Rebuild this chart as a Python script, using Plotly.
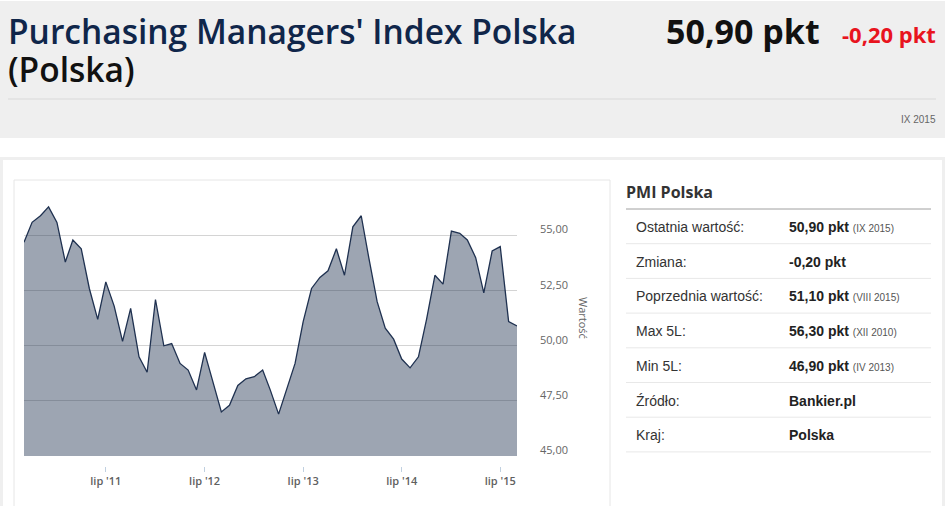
import pandas as pd
import plotly.graph_objects as go

# Page size in pixels
W, H = 945, 506

# PMI Polska, monthly values from IX 2010 to IX 2015
months = pd.date_range("2010-09-01", "2015-09-01", freq="MS")
pmi = [54.7, 55.6, 55.9, 56.3,
       55.6, 53.8, 54.8, 54.4, 52.6, 51.2, 52.9, 51.8, 50.2, 51.7, 49.5, 48.8,
       52.1, 50.0, 50.1, 49.2, 48.9, 48.0, 49.7, 48.3, 47.0, 47.3, 48.2, 48.5,
       48.6, 48.9, 48.0, 46.9, 48.0, 49.2, 51.1, 52.6, 53.1, 53.4, 54.4, 53.2,
       55.4, 55.9, 54.0, 52.0, 50.8, 50.3, 49.4, 49.0, 49.5, 51.2, 53.2, 52.8,
       55.2, 55.1, 54.8, 54.0, 52.4, 54.3, 54.5, 51.1, 50.9]

# Axis ticks
x_tick_dates = ["2011-07-01", "2012-07-01", "2013-07-01", "2014-07-01", "2015-07-01"]
x_tick_labels = ["lip '11", "lip '12", "lip '13", "lip '14", "lip '15"]
y_tick_values = [45, 47.5, 50, 52.5, 55]
y_tick_labels = ["45,00", "47,50", "50,00", "52,50", "55,00"]

# Header texts
title_line1 = "Purchasing Managers' Index Polska"
title_line2 = "(Polska)"
last_value = "50,90 pkt"
last_change = "-0,20 pkt"
last_period = "IX 2015"

# Side table
table_title = "PMI Polska"
row_labels = ["Ostatnia wartość:", "Zmiana:", "Poprzednia wartość:", "Max 5L:",
              "Min 5L:", "Źródło:", "Kraj:"]
row_values = ["50,90 pkt", "-0,20 pkt", "51,10 pkt", "56,30 pkt",
              "46,90 pkt", "Bankier.pl", "Polska"]
row_notes = ["(IX 2015)", "", "(VIII 2015)", "(XII 2010)", "(IV 2013)", "", ""]


# pixel -> paper helpers
def px(x):
    return x / W


def py(y):
    return 1 - y / H


HEAD_FONT = "Open Sans"
BODY_FONT = "Liberation Sans"

fig = go.Figure()

# Area chart
fig.add_trace(go.Scatter(
    x=months, y=pmi, mode="lines",
    line=dict(color="#1f3150", width=1.3),
    fill="tozeroy", fillcolor="rgba(31,49,80,0.44)",
    hoverinfo="x+y", showlegend=False
))

shapes = []
# header background and separator
shapes.append(dict(type="rect", xref="paper", yref="paper", x0=0, x1=1, y0=py(138), y1=py(1),
                   fillcolor="#efefef", line=dict(width=0), layer="below"))
shapes.append(dict(type="line", xref="paper", yref="paper", x0=px(8), x1=px(936), y0=py(99), y1=py(99),
                   line=dict(color="#d9d9d9", width=1), layer="below"))
# outer container border
shapes.append(dict(type="rect", xref="paper", yref="paper", x0=0, x1=1, y0=0, y1=py(157),
                   fillcolor="#efefef", line=dict(width=0), layer="below"))
shapes.append(dict(type="rect", xref="paper", yref="paper", x0=px(3), x1=px(942), y0=0, y1=py(160),
                   fillcolor="white", line=dict(width=0), layer="below"))
# chart box
shapes.append(dict(type="rect", xref="paper", yref="paper", x0=px(14), x1=px(610), y0=py(510), y1=py(180),
                   fillcolor="white", line=dict(color="#e6e6e6", width=1), layer="below"))
# table lines
shapes.append(dict(type="line", xref="paper", yref="paper", x0=px(626), x1=px(931), y0=py(209), y1=py(209),
                   line=dict(color="#a0a0a0", width=1), layer="below"))
for k in range(len(row_labels)):
    yl = 209 + (k + 1) * 34.7
    shapes.append(dict(type="line", xref="paper", yref="paper", x0=px(626), x1=px(931), y0=py(yl), y1=py(yl),
                       line=dict(color="#e8e8e8", width=1), layer="below"))

annotations = []
# header texts
annotations.append(dict(x=px(6), y=py(31), xref="paper", yref="paper", xanchor="left", yanchor="middle",
                        text=title_line1, showarrow=False,
                        font=dict(family=HEAD_FONT, size=33.5, color="#10264a", weight=600)))
annotations.append(dict(x=px(6), y=py(69), xref="paper", yref="paper", xanchor="left", yanchor="middle",
                        text=title_line2, showarrow=False,
                        font=dict(family=HEAD_FONT, size=33.5, color="#111111", weight=600)))
annotations.append(dict(x=px(822), y=py(31), xref="paper", yref="paper", xanchor="right", yanchor="middle",
                        text="<b>" + last_value + "</b>", showarrow=False,
                        font=dict(family=HEAD_FONT, size=34, color="#111111")))
annotations.append(dict(x=px(938), y=py(34), xref="paper", yref="paper", xanchor="right", yanchor="middle",
                        text="<b>" + last_change + "</b>", showarrow=False,
                        font=dict(family=HEAD_FONT, size=22, color="#e8141e")))
annotations.append(dict(x=px(938), y=py(120), xref="paper", yref="paper", xanchor="right", yanchor="middle",
                        text=last_period, showarrow=False,
                        font=dict(family=BODY_FONT, size=10, color="#666666")))
# axis title on the right, reading top to bottom
annotations.append(dict(x=px(584), y=py(318), xref="paper", yref="paper", xanchor="center", yanchor="middle",
                        text="Wartość", textangle=90, showarrow=False,
                        font=dict(family=HEAD_FONT, size=11, color="#666666")))
# table
annotations.append(dict(x=px(624), y=py(192), xref="paper", yref="paper", xanchor="left", yanchor="middle",
                        text="<b>" + table_title + "</b>", showarrow=False,
                        font=dict(family=HEAD_FONT, size=16, color="#333333")))
for k, (lab, val, note) in enumerate(zip(row_labels, row_values, row_notes)):
    yc = 227 + k * 34.7
    annotations.append(dict(x=px(634), y=py(yc), xref="paper", yref="paper", xanchor="left", yanchor="middle",
                            text=lab, showarrow=False,
                            font=dict(family=BODY_FONT, size=14, color="#333333")))
    txt = "<b>" + val + "</b>"
    if note:
        txt += " <span style='font-size:10px;color:#555555'>" + note + "</span>"
    annotations.append(dict(x=px(787), y=py(yc), xref="paper", yref="paper", xanchor="left", yanchor="middle",
                            text=txt, showarrow=False,
                            font=dict(family=BODY_FONT, size=14, color="#222222")))

fig.update_layout(
    width=W, height=H,
    margin=dict(l=0, r=0, t=0, b=0),
    paper_bgcolor="white",
    plot_bgcolor="rgba(0,0,0,0)",
    shapes=shapes,
    annotations=annotations,
    showlegend=False,
    xaxis=dict(
        domain=[px(24), px(517)],
        range=["2010-09-01", "2015-09-01"],
        tickvals=x_tick_dates, ticktext=x_tick_labels,
        anchor="free", position=py(466),
        showgrid=False, zeroline=False, showline=False,
        ticks="outside", ticklen=5, tickcolor="#c0d0e0",
        tickfont=dict(family=HEAD_FONT, size=11, color="#606060", weight=600),
    ),
    yaxis=dict(
        domain=[py(456), py(191.5)],
        range=[45, 57],
        side="right",
        tickvals=y_tick_values, ticktext=y_tick_labels,
        showgrid=True, gridcolor="#d4d4d4", gridwidth=1,
        zeroline=False, showline=False, ticks="",
        ticklabelstandoff=22, ticklabelshift=-6,
        tickfont=dict(family=HEAD_FONT, size=11, color="#666666"),
    ),
)

# drop the default page margin and scrollbars so the figure fills the window exactly
page_fix = ("document.documentElement.style.margin='0px';"
            "document.documentElement.style.overflow='hidden';"
            "document.body.style.margin='0px';"
            "document.body.style.overflow='hidden';"
            "document.body.style.height='506px';")
fig.write_html("out.html", config={"displayModeBar": False}, post_script=page_fix)
